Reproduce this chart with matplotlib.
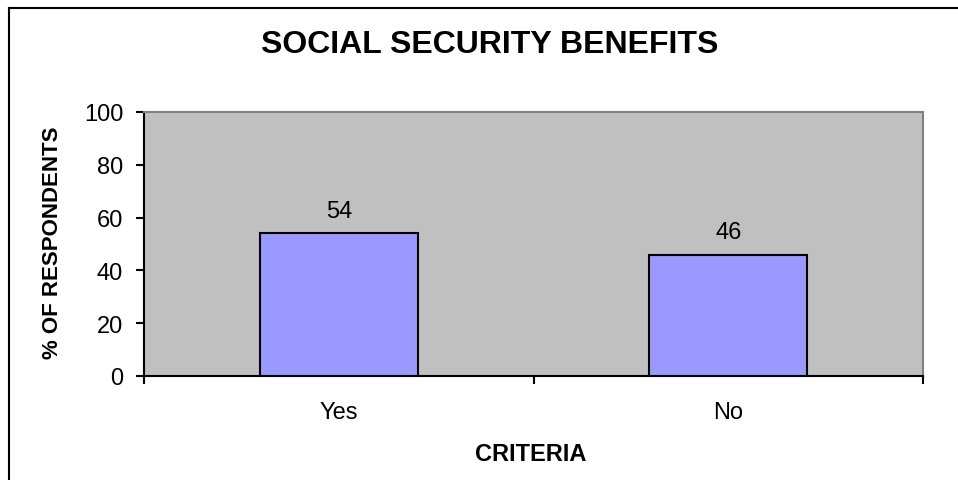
import matplotlib
matplotlib.use("Agg")
import matplotlib.pyplot as plt
from matplotlib.lines import Line2D

plt.rcParams['font.family'] = ['Liberation Sans', 'DejaVu Sans']

# ---- data
categories = ["Yes", "No"]
values = [54, 46]
yticks = [0, 20, 40, 60, 80, 100]

W, H = 958, 481
fig = plt.figure(figsize=(W / 100, H / 100), dpi=100)
ax = fig.add_axes([144 / W, 1 - 377 / H, (923 - 144) / W, (377 - 113) / H])
ax.set_facecolor("#C0C0C0")

xpos = [i + 0.5 for i in range(len(categories))]
bars = ax.bar(xpos, values, width=0.405, color="#9999FF", edgecolor="black", linewidth=1.5, zorder=3)

for b, v in zip(bars, values):
    ax.annotate(str(v), (b.get_x() + b.get_width() / 2, v), xytext=(0, 16),
                textcoords="offset points", ha="center", va="center", fontsize=17)

ax.set_xlim(0, len(categories))
ax.set_ylim(0, 100)
ax.set_yticks(yticks)
ax.tick_params(axis="y", direction="out", length=6, width=1.5, pad=9, labelsize=17)

# category boundary ticks, labels in the middle
ax.set_xticks(range(len(categories) + 1))
ax.set_xticklabels([])
ax.tick_params(axis="x", which="major", direction="out", length=6, width=1.5)
ax.set_xticks(xpos, minor=True)
ax.set_xticklabels(categories, minor=True)
ax.tick_params(axis="x", which="minor", length=0, pad=18, labelsize=17)

for s in ["left", "bottom"]:
    ax.spines[s].set_color("black")
    ax.spines[s].set_linewidth(1.5)
for s in ["top", "right"]:
    ax.spines[s].set_color("#808080")
    ax.spines[s].set_linewidth(1.5)

fig.text(490 / W, 1 - 45 / H, "SOCIAL SECURITY BENEFITS", ha="center", va="center",
         fontsize=23, fontweight="bold")
fig.text(531 / W, 1 - 455 / H, "CRITERIA", ha="center", va="center",
         fontsize=17, fontweight="bold")
fig.text(53 / W, 1 - 243 / H, "% OF RESPONDENTS", ha="center", va="center",
         rotation=90, fontsize=16, fontweight="bold")

# outer chart border (only left and top visible)
bx, by = 9 / W, 1 - 9 / H
fig.add_artist(Line2D([bx, bx], [0, by], transform=fig.transFigure, color="black", lw=1.5))
fig.add_artist(Line2D([bx, 1], [by, by], transform=fig.transFigure, color="black", lw=1.5))

fig.savefig("out.png", dpi=100)
